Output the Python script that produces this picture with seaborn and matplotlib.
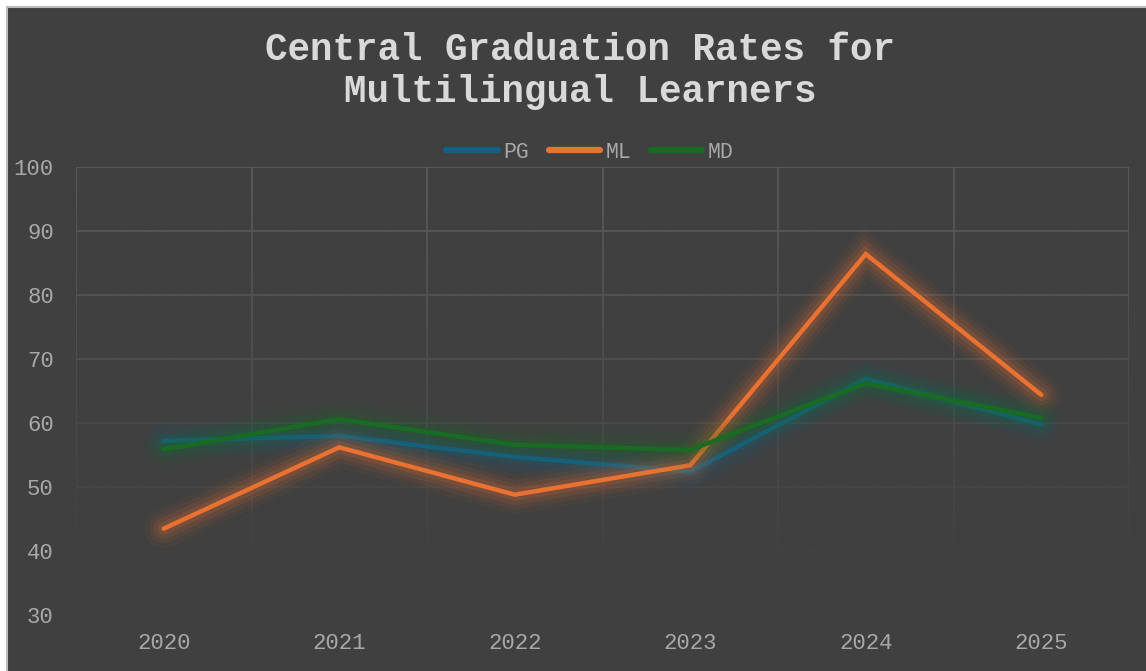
import numpy as np
import pandas as pd
import matplotlib
matplotlib.use("Agg")
import matplotlib.pyplot as plt
import matplotlib.patheffects as pe
from matplotlib.patches import Rectangle
from matplotlib.lines import Line2D
import seaborn as sns

# ---- data ----
years = ["2020", "2021", "2022", "2023", "2024", "2025"]
pg = [57.2, 58.0, 54.7, 52.4, 66.9, 59.8]
ml = [43.5, 56.2, 48.8, 53.4, 86.4, 64.4]
md = [55.9, 60.6, 56.6, 55.8, 66.2, 60.8]
series_names = ["PG", "ML", "MD"]
colors = {"PG": "#156082", "ML": "#E97132", "MD": "#196B24"}
yticks = [30, 40, 50, 60, 70, 80, 90, 100]
title = "Central Graduation Rates for\nMultilingual Learners"

df = pd.DataFrame({
    "Year": years * 3,
    "Rate": pg + ml + md,
    "Series": ["PG"] * 6 + ["ML"] * 6 + ["MD"] * 6,
})

sns.set_theme(style="dark")
plt.rcParams["font.family"] = ["Liberation Mono", "DejaVu Sans"]

W, H = 1146, 671
BG = "#404040"
fig = plt.figure(figsize=(W / 100, H / 100), dpi=100)
fig.patch.set_facecolor("white")
# dark chart area with light frame
fig.patches.append(Rectangle((7 / W, -0.01), 1.01 - 7 / W, 1.01 - 7 / H, transform=fig.transFigure,
                             facecolor=BG, edgecolor="#bdbdbd", linewidth=1.5, zorder=-10))

left, right, top, bottom = 76, 1129, 167, 615
ax = fig.add_axes([left / W, 1 - bottom / H, (right - left) / W, (bottom - top) / H])
ax.set_facecolor(BG)
ax.set_zorder(1)

sns.lineplot(data=df, x="Year", y="Rate", hue="Series", hue_order=series_names,
             palette=colors, linewidth=3.2, ax=ax, sort=False, legend=False, zorder=3)

for line in ax.get_lines():
    c = line.get_color()
    line.set_solid_capstyle("round")
    line.set_solid_joinstyle("miter")
    line.set_path_effects([
        pe.Stroke(linewidth=28, foreground=c, alpha=0.05),
        pe.Stroke(linewidth=21, foreground=c, alpha=0.07),
        pe.Stroke(linewidth=15, foreground=c, alpha=0.10),
        pe.Stroke(linewidth=9, foreground=c, alpha=0.15),
        pe.Normal(),
    ])

ax.set_xticks(range(len(years)))
ax.set_xticklabels(years)
ax.set_xticks(np.arange(-0.5, 6, 1.0), minor=True)
ax.set_yticks(yticks)
ax.set_xlabel("")
ax.set_ylabel("")

ax.set_axisbelow(True)
ax.grid(False)
ax.yaxis.grid(True, which="major", color="#5c5c5c", linewidth=1.2)
ax.xaxis.grid(True, which="minor", color="#5c5c5c", linewidth=1.2)
for s in ax.spines.values():
    s.set_visible(False)

# fade gridlines toward the bottom
grad = np.zeros((256, 1, 4))
rgb = matplotlib.colors.to_rgb(BG)
grad[..., 0], grad[..., 1], grad[..., 2] = rgb
alpha = np.clip((np.linspace(100, 30, 256) - 100) / (36 - 100), 0, 1) ** 1.1
grad[:, 0, 3] = alpha
ax.imshow(grad, extent=(-0.5, 5.5, 30, 100), aspect="auto", origin="upper",
          zorder=1, interpolation="bilinear")
ax.set_xlim(-0.5, 5.5)
ax.set_ylim(30, 100)

ax.tick_params(axis="both", which="both", length=0, labelsize=16, labelcolor="#a8a8a8")
ax.tick_params(axis="y", pad=16)
ax.tick_params(axis="x", pad=13)

# legend
handles = [Line2D([], [], color=colors[n], linewidth=4.5, solid_capstyle="round") for n in series_names]
leg = fig.legend(handles, series_names, loc="center", bbox_to_anchor=(590 / W, 1 - 152 / H),
                 ncol=3, frameon=False, fontsize=15.5, handlelength=2.4,
                 handletextpad=0.25, columnspacing=0.9)
for t in leg.get_texts():
    t.set_color("#a8a8a8")

fig.text(580 / W, 1 - 71 / H, title, ha="center", va="center", ma="center",
         fontsize=27, fontweight="bold", color="#d9d9d9", linespacing=1.25)

fig.savefig("out.png", dpi=100, facecolor=fig.get_facecolor())
